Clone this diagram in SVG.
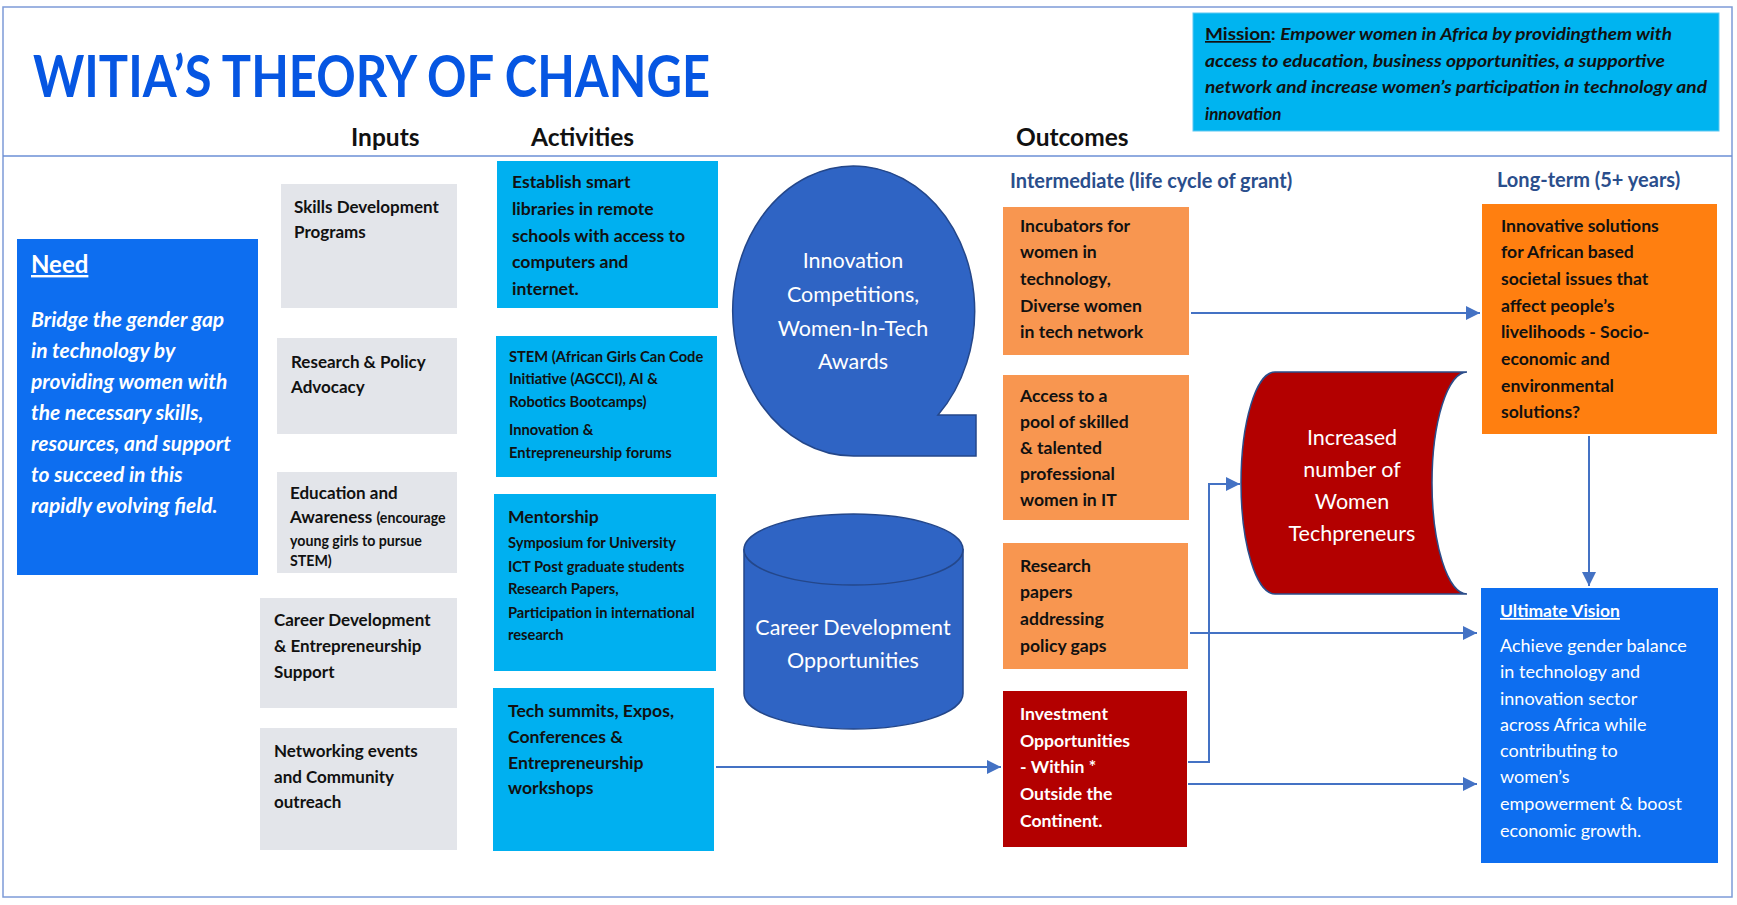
<svg xmlns="http://www.w3.org/2000/svg" width="1737" height="905" viewBox="0 0 1737 905">
<style>
  text { font-family: Lato, "Liberation Sans", sans-serif; }
  .frame { fill: none; stroke: #7d9bd8; stroke-width: 1.5; }
  .gray { fill: #e3e5ea; }
  .cyan { fill: #00b0f0; }
  .lor { fill: #f89650; }
  .dred { fill: #b30000; }
  .blue { fill: #0d6ef0; }
  .shape { fill: #2f64c4; stroke: #24478a; stroke-width: 1.5; }
  .t { font-size: 17px; font-weight: 700; fill: #111; }
  .t2 { font-size: 14.2px; font-weight: 700; fill: #111; }
  .ta { font-size: 17.6px; font-weight: 700; fill: #111; }
  .ts { font-size: 14.7px; font-weight: 700; fill: #111; }
  .tw { font-size: 17.6px; font-weight: 700; fill: #fff; }
  .wr { font-size: 18px; fill: #fff; }
  .lbl { font-size: 21.5px; fill: #fff; text-anchor: middle; }
  .hdr { font-size: 24.5px; font-weight: 700; fill: #111; }
  .sub { font-size: 20px; font-weight: 700; fill: #2a4e8c; }
  .conn { fill: none; stroke: #4472c4; stroke-width: 2; }
</style>
<defs>
  <marker id="arr" markerUnits="userSpaceOnUse" markerWidth="14" markerHeight="14" refX="14" refY="7" orient="auto">
    <path d="M0,0 L14,7 L0,14 Z" fill="#4472c4"/>
  </marker>
</defs>
<rect x="0" y="0" width="1737" height="905" fill="#ffffff"/>
<rect class="frame" x="3" y="7" width="1729" height="890"/>
<line x1="3" y1="156" x2="1732" y2="156" stroke="#6b8fd6" stroke-width="1.5"/>

<g id="title">
  <text x="33" y="97" font-size="58" font-weight="700" fill="#0656e2" textLength="677" lengthAdjust="spacingAndGlyphs">WITIA’S THEORY OF CHANGE</text>
</g>

<g id="mission">
  <rect x="1193" y="13" width="526" height="118" fill="#00b4f0" stroke="#5cc8f2" stroke-width="1"/>
  <text x="1205" y="40" font-size="17" font-weight="700" fill="#111" textLength="467" lengthAdjust="spacingAndGlyphs"><tspan text-decoration="underline">Mission</tspan>: <tspan font-style="italic">Empower women in Africa by providingthem with</tspan></text>
  <text x="1205" y="66.5" font-size="17" font-weight="700" font-style="italic" fill="#111" textLength="460" lengthAdjust="spacingAndGlyphs">access to education, business opportunities, a supportive</text>
  <text x="1205" y="93" font-size="17" font-weight="700" font-style="italic" fill="#111" textLength="502" lengthAdjust="spacingAndGlyphs">network and increase women’s participation in technology and</text>
  <text x="1205" y="119.5" font-size="17" font-weight="700" font-style="italic" fill="#111">innovation</text>
</g>

<g id="headers">
  <text class="hdr" x="351" y="146">Inputs</text>
  <text class="hdr" x="531" y="146">Activities</text>
  <text class="hdr" x="1016" y="146">Outcomes</text>
  <text class="sub" x="1010" y="188">Intermediate (life cycle of grant)</text>
  <text class="sub" x="1497" y="187">Long-term (5+ years)</text>
</g>

<g id="need">
  <rect class="blue" x="17" y="239" width="241" height="336"/>
  <text x="31" y="273" font-size="24" font-weight="700" fill="#fff" text-decoration="underline">Need</text>
  <g font-size="21" font-weight="700" font-style="italic" fill="#fff">
    <text x="31" y="327">Bridge the gender gap</text>
    <text x="31" y="358">in technology by</text>
    <text x="31" y="389">providing women with</text>
    <text x="31" y="420">the necessary skills,</text>
    <text x="31" y="451">resources, and support</text>
    <text x="31" y="482">to succeed in this</text>
    <text x="31" y="513">rapidly evolving field.</text>
  </g>
</g>

<g id="input-skills">
  <rect class="gray" x="281" y="184" width="176" height="124"/>
  <text class="t" x="294" y="213">Skills Development</text>
  <text class="t" x="294" y="238">Programs</text>
</g>
<g id="input-research">
  <rect class="gray" x="277" y="338" width="180" height="96"/>
  <text class="t" x="291" y="368">Research &amp; Policy</text>
  <text class="t" x="291" y="393">Advocacy</text>
</g>
<g id="input-education">
  <rect class="gray" x="277" y="472" width="180" height="101"/>
  <text class="t" x="290" y="499">Education and</text>
  <text class="t" x="290" y="523">Awareness <tspan class="t2">(encourage</tspan></text>
  <text class="t2" x="290" y="546">young girls to pursue</text>
  <text class="t2" x="290" y="566">STEM)</text>
</g>
<g id="input-career">
  <rect class="gray" x="260" y="598" width="197" height="110"/>
  <text class="t" x="274" y="626">Career Development</text>
  <text class="t" x="274" y="652">&amp; Entrepreneurship</text>
  <text class="t" x="274" y="678">Support</text>
</g>
<g id="input-networking">
  <rect class="gray" x="260" y="728" width="197" height="122"/>
  <text class="t" x="274" y="757">Networking events</text>
  <text class="t" x="274" y="783">and Community</text>
  <text class="t" x="274" y="808">outreach</text>
</g>

<g id="act-libraries">
  <rect class="cyan" x="497" y="161" width="221" height="147"/>
  <text class="ta" x="512" y="188">Establish smart</text>
  <text class="ta" x="512" y="215">libraries in remote</text>
  <text class="ta" x="512" y="242">schools with access to</text>
  <text class="ta" x="512" y="268">computers and</text>
  <text class="ta" x="512" y="295">internet.</text>
</g>
<g id="act-stem">
  <rect class="cyan" x="496" y="336" width="221" height="141"/>
  <text class="ts" x="509" y="362">STEM (African Girls Can Code</text>
  <text class="ts" x="509" y="384">Initiative (AGCCI), AI &amp;</text>
  <text class="ts" x="509" y="407">Robotics Bootcamps)</text>
  <text class="ts" x="509" y="435">Innovation &amp;</text>
  <text class="ts" x="509" y="458">Entrepreneurship forums</text>
</g>
<g id="act-mentorship">
  <rect class="cyan" x="494" y="494" width="222" height="177"/>
  <text class="ta" x="508" y="523">Mentorship</text>
  <text class="ts" x="508" y="548">Symposium for University</text>
  <text class="ts" x="508" y="572">ICT Post graduate students</text>
  <text class="ts" x="508" y="594">Research Papers,</text>
  <text class="ts" x="508" y="618">Participation in international</text>
  <text class="ts" x="508" y="640">research</text>
</g>
<g id="act-summits">
  <rect class="cyan" x="493" y="688" width="221" height="163"/>
  <text class="ta" x="508" y="717">Tech summits, Expos,</text>
  <text class="ta" x="508" y="743">Conferences &amp;</text>
  <text class="ta" x="508" y="769">Entrepreneurship</text>
  <text class="ta" x="508" y="794">workshops</text>
</g>

<g id="innovation-competitions">
  <path class="shape" d="M854,456 A121,145 0 1 1 938,415 H976 V456 Z"/>
  <text class="lbl" x="853" y="268">Innovation</text>
  <text class="lbl" x="853" y="302">Competitions,</text>
  <text class="lbl" x="853" y="336">Women-In-Tech</text>
  <text class="lbl" x="853" y="369">Awards</text>
</g>

<g id="career-opportunities">
  <path class="shape" d="M744,549.5 V693.5 A109.5,35.5 0 0 0 963,693.5 V549.5 Z"/>
  <ellipse class="shape" cx="853.5" cy="549.5" rx="109.5" ry="35.5"/>
  <text class="lbl" x="853" y="635">Career Development</text>
  <text class="lbl" x="853" y="668">Opportunities</text>
</g>

<g id="out-incubators">
  <rect class="lor" x="1003" y="207" width="186" height="148"/>
  <text class="ta" x="1020" y="232">Incubators for</text>
  <text class="ta" x="1020" y="258">women in</text>
  <text class="ta" x="1020" y="285">technology,</text>
  <text class="ta" x="1020" y="312">Diverse women</text>
  <text class="ta" x="1020" y="338">in tech network</text>
</g>
<g id="out-access">
  <rect class="lor" x="1003" y="375" width="186" height="145"/>
  <text class="ta" x="1020" y="402">Access to a</text>
  <text class="ta" x="1020" y="428">pool of skilled</text>
  <text class="ta" x="1020" y="454">&amp; talented</text>
  <text class="ta" x="1020" y="480">professional</text>
  <text class="ta" x="1020" y="506">women in IT</text>
</g>
<g id="out-research">
  <rect class="lor" x="1003" y="543" width="185" height="126"/>
  <text class="ta" x="1020" y="572">Research</text>
  <text class="ta" x="1020" y="598">papers</text>
  <text class="ta" x="1020" y="625">addressing</text>
  <text class="ta" x="1020" y="652">policy gaps</text>
</g>
<g id="out-investment">
  <rect class="dred" x="1003" y="691" width="184" height="156"/>
  <text class="tw" x="1020" y="720">Investment</text>
  <text class="tw" x="1020" y="747">Opportunities</text>
  <text class="tw" x="1020" y="773">- Within *</text>
  <text class="tw" x="1020" y="800">Outside the</text>
  <text class="tw" x="1020" y="827">Continent.</text>
</g>

<g id="techpreneurs">
  <path d="M1275,372 H1467 A35,111 0 0 0 1467,594 H1275 A34,111 0 0 1 1275,372 Z" fill="#b30000" stroke="#2b4d8a" stroke-width="1.5"/>
  <text class="lbl" x="1352" y="445">Increased</text>
  <text class="lbl" x="1352" y="477">number of</text>
  <text class="lbl" x="1352" y="509">Women</text>
  <text class="lbl" x="1352" y="541">Techpreneurs</text>
</g>

<g id="long-term">
  <rect x="1482" y="204" width="235" height="230" fill="#ff7f10"/>
  <text class="ta" x="1501" y="232">Innovative solutions</text>
  <text class="ta" x="1501" y="258">for African based</text>
  <text class="ta" x="1501" y="285">societal issues that</text>
  <text class="ta" x="1501" y="312">affect people’s</text>
  <text class="ta" x="1501" y="338">livelihoods - Socio-</text>
  <text class="ta" x="1501" y="365">economic and</text>
  <text class="ta" x="1501" y="392">environmental</text>
  <text class="ta" x="1501" y="418">solutions?</text>
</g>

<g id="ultimate-vision">
  <rect class="blue" x="1481" y="588" width="237" height="275"/>
  <text x="1500" y="617" font-size="17.5" font-weight="700" fill="#fff" text-decoration="underline">Ultimate Vision</text>
  <text class="wr" x="1500" y="652">Achieve gender balance</text>
  <text class="wr" x="1500" y="678">in technology and</text>
  <text class="wr" x="1500" y="705">innovation sector</text>
  <text class="wr" x="1500" y="731">across Africa while</text>
  <text class="wr" x="1500" y="757">contributing to</text>
  <text class="wr" x="1500" y="783">women’s</text>
  <text class="wr" x="1500" y="810">empowerment &amp; boost</text>
  <text class="wr" x="1500" y="837">economic growth.</text>
</g>

<g id="connectors">
  <path class="conn" d="M716,767 H1001" marker-end="url(#arr)"/>
  <path class="conn" d="M1191,313 H1480" marker-end="url(#arr)"/>
  <path class="conn" d="M1190,633 H1477" marker-end="url(#arr)"/>
  <path class="conn" d="M1188,784 H1477" marker-end="url(#arr)"/>
  <path class="conn" d="M1188,762 H1209 V484 H1240" marker-end="url(#arr)"/>
  <path class="conn" d="M1589,436 V586" marker-end="url(#arr)"/>
</g>
</svg>
